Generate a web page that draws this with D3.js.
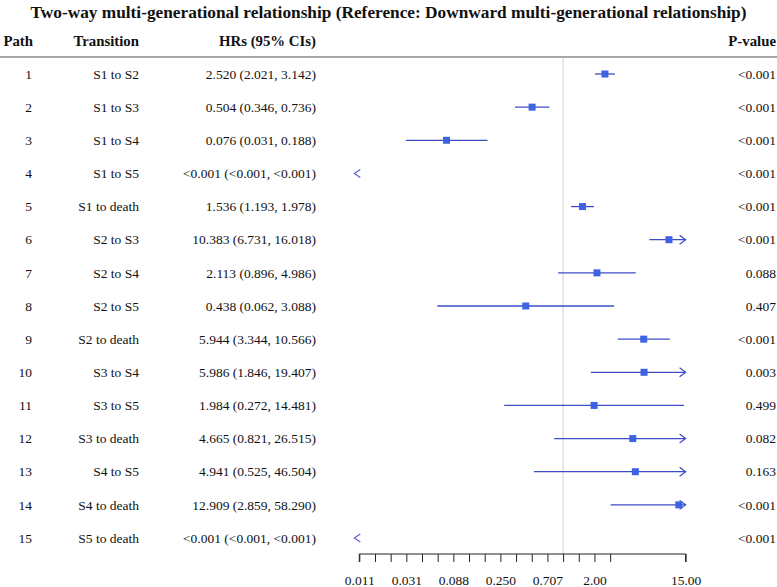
<!DOCTYPE html>
<html>
<head>
<meta charset="utf-8">
<script src="https://cdn.jsdelivr.net/npm/d3@7"></script>
<style>
  body { margin: 0; background: #fff; }
  svg text { font-family: "Liberation Serif", "Times New Roman", serif; fill: #111; }
</style>
</head>
<body>
<div id="chart"></div>
<script>
// forest plot data
var paths = ["1","2","3","4","5","6","7","8","9","10","11","12","13","14","15"];
var transitions = ["S1 to S2","S1 to S3","S1 to S4","S1 to S5","S1 to death","S2 to S3","S2 to S4",
                   "S2 to S5","S2 to death","S3 to S4","S3 to S5","S3 to death","S4 to S5","S4 to death","S5 to death"];
var hrs  = [2.520, 0.504, 0.076, null, 1.536, 10.383, 2.113, 0.438, 5.944, 5.986, 1.984, 4.665, 4.941, 12.909, null];
var lows = [2.021, 0.346, 0.031, null, 1.193, 6.731, 0.896, 0.062, 3.344, 1.846, 0.272, 0.821, 0.525, 2.859, null];
var highs = [3.142, 0.736, 0.188, null, 1.978, 16.018, 4.986, 3.088, 10.566, 19.407, 14.481, 26.515, 46.504, 58.290, null];
var hrLabels = ["2.520 (2.021, 3.142)","0.504 (0.346, 0.736)","0.076 (0.031, 0.188)","<0.001 (<0.001, <0.001)",
                "1.536 (1.193, 1.978)","10.383 (6.731, 16.018)","2.113 (0.896, 4.986)","0.438 (0.062, 3.088)",
                "5.944 (3.344, 10.566)","5.986 (1.846, 19.407)","1.984 (0.272, 14.481)","4.665 (0.821, 26.515)",
                "4.941 (0.525, 46.504)","12.909 (2.859, 58.290)","<0.001 (<0.001, <0.001)"];
var pvalues = ["<0.001","<0.001","<0.001","<0.001","<0.001","<0.001","0.088","0.407",
               "<0.001","0.003","0.499","0.082","0.163","<0.001","<0.001"];
var tickValues = d3.range(-6.5, 1.51, 0.5).map(function(e){ return Math.pow(2, e); }).concat([15]);
var tickLabels = ["0.011","","","0.031","","","0.088","","","0.250","","","0.707","","","2.00","","15.00"];
var xMin = Math.pow(2, -6.5), xMax = 15;

var width = 777, height = 587;
var lineColor = "#3d4cc4", boxColor = "#3b63e3";

var svg = d3.select("#chart").append("svg")
            .attr("width", width)
            .attr("height", height);

var x = d3.scaleLog().base(2).domain([xMin, xMax]).range([359.3, 685.6]);
var y = d3.scalePoint().domain(paths).range([74, 538]);

// title
svg.append("text")
   .attr("x", width / 2)
   .attr("y", 18)
   .attr("text-anchor", "middle")
   .style("font-weight", "bold")
   .style("font-size", "17.3px")
   .text("Two-way multi-generational relationship (Reference: Downward multi-generational relationship)");

// column headers
var headers = [["Path", 33], ["Transition", 139], ["HRs (95% CIs)", 316], ["P-value", 776]];
svg.selectAll("text.header")
   .data(headers)
   .enter().append("text")
   .attr("class", "header")
   .attr("x", function(d){ return d[1]; })
   .attr("y", 46)
   .attr("text-anchor", "end")
   .style("font-weight", "bold")
   .style("font-size", "14.8px")
   .text(function(d){ return d[0]; });

svg.append("line")
   .attr("x1", 0).attr("x2", width)
   .attr("y1", 57).attr("y2", 57)
   .attr("stroke", "#8a8a8a")
   .attr("stroke-width", 1.5);

// reference line at HR = 1
svg.append("line")
   .attr("x1", x(1)).attr("x2", x(1))
   .attr("y1", 58).attr("y2", 554)
   .attr("stroke", "#cfcfcf")
   .attr("stroke-width", 1);

// table columns
var rows = svg.selectAll("g.row")
              .data(paths)
              .enter().append("g")
              .attr("class", "row")
              .attr("transform", function(d){ return "translate(0," + y(d) + ")"; });

rows.append("text").attr("x", 32).attr("dy", "0.35em").attr("text-anchor", "end")
    .style("font-size", "13.5px").text(function(d){ return d; });
rows.append("text").attr("x", 139).attr("dy", "0.35em").attr("text-anchor", "end")
    .style("font-size", "13.5px").text(function(d, i){ return transitions[i]; });
rows.append("text").attr("x", 316).attr("dy", "0.35em").attr("text-anchor", "end")
    .style("font-size", "13.5px").text(function(d, i){ return hrLabels[i]; });
rows.append("text").attr("x", 776).attr("dy", "0.35em").attr("text-anchor", "end")
    .style("font-size", "13.5px").text(function(d, i){ return pvalues[i]; });

// CI lines, boxes and clipping arrows
rows.each(function(d, i){
    var g = d3.select(this);
    if (hrs[i] === null) {
        var xl = x(xMin);
        g.append("path")
         .attr("d", "M" + (xl + 1) + ",-4 L" + (xl - 5) + ",0 L" + (xl + 1) + ",4")
         .attr("fill", "none").attr("stroke", "#5a5ad0").attr("stroke-width", 1.1);
        return;
    }
    var lo = Math.max(lows[i], xMin), hi = Math.min(highs[i], xMax);
    g.append("line")
     .attr("x1", x(lo)).attr("x2", x(hi))
     .attr("y1", 0).attr("y2", 0)
     .attr("stroke", lineColor).attr("stroke-width", 1.3);
    if (highs[i] > xMax) {
        var xr = x(xMax);
        g.append("path")
         .attr("d", "M" + (xr - 6) + ",-4.5 L" + xr + ",0 L" + (xr - 6) + ",4.5")
         .attr("fill", "none").attr("stroke", lineColor).attr("stroke-width", 1.2);
    }
    g.append("rect")
     .attr("x", x(hrs[i]) - 3.5).attr("y", -3.5)
     .attr("width", 7).attr("height", 7)
     .attr("fill", boxColor);
});

// x axis
var axis = d3.axisBottom(x)
             .tickValues(tickValues)
             .tickSize(8)
             .tickFormat(function(d, i){ return tickLabels[i]; });

var axisG = svg.append("g")
               .attr("transform", "translate(0,554)")
               .call(axis);
axisG.select(".domain").attr("d", "M" + x(xMin) + ",8V0H" + x(xMax) + "V8").attr("stroke", "#222");
axisG.selectAll(".tick line").attr("stroke", "#222");
axisG.selectAll(".tick text")
     .attr("y", 21)
     .style("font-family", "Liberation Serif, serif")
     .style("font-size", "13.5px")
     .attr("fill", "#111");
</script>
</body>
</html>
